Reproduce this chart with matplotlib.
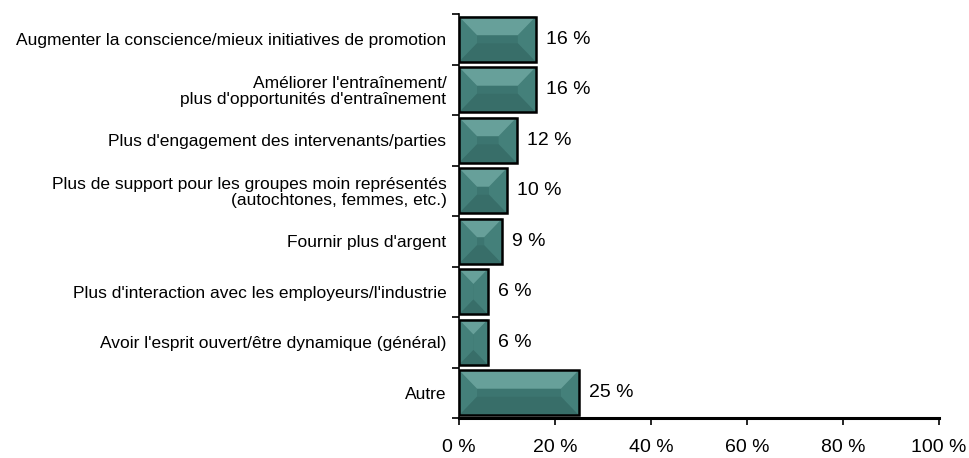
import matplotlib
matplotlib.use("Agg")
import matplotlib.pyplot as plt
from matplotlib.patches import Polygon, Rectangle

categories = [
    "Augmenter la conscience/mieux initiatives de promotion",
    "Améliorer l'entraînement/\nplus d'opportunités d'entraînement",
    "Plus d'engagement des intervenants/parties",
    "Plus de support pour les groupes moin représentés\n(autochtones, femmes, etc.)",
    "Fournir plus d'argent",
    "Plus d'interaction avec les employeurs/l'industrie",
    "Avoir l'esprit ouvert/être dynamique (général)",
    "Autre",
]
values = [16, 16, 12, 10, 9, 6, 6, 25]
xticks = [0, 20, 40, 60, 80, 100]
xticklabels = ["0 %", "20 %", "40 %", "60 %", "80 %", "100 %"]

plt.rcParams['font.family'] = ['Liberation Sans', 'DejaVu Sans']

fig = plt.figure(figsize=(9.69, 4.58), dpi=100)
ax = fig.add_axes([459/969, 1-418/458, 480/969, 404/458])

n = len(categories)
ys = list(range(n))[::-1]  # first category at top
h = 0.9
ix = 3.75   # bevel inset in x data units
iy = 0.37   # bevel inset in y data units

c_top = "#67a09a"
c_side = "#44807a"
c_mid = "#3c7570"
c_bot = "#386e69"

for y, v in zip(ys, values):
    x0, x1 = 0, v
    y0, y1 = y - h/2, y + h/2
    d = min(ix, v/2)
    dy = iy * d / ix
    ax.add_patch(Rectangle((x0, y0), v, h, facecolor=c_mid, edgecolor='none', zorder=2))
    ax.add_patch(Polygon([(x0, y0), (x0, y1), (x0+d, y1-dy), (x0+d, y0+dy)], closed=True,
                         facecolor=c_side, edgecolor='none', zorder=3))
    ax.add_patch(Polygon([(x1, y0), (x1, y1), (x1-d, y1-dy), (x1-d, y0+dy)], closed=True,
                         facecolor=c_side, edgecolor='none', zorder=3))
    ax.add_patch(Polygon([(x0, y1), (x1, y1), (x1-d, y1-dy), (x0+d, y1-dy)], closed=True,
                         facecolor=c_top, edgecolor='none', zorder=3))
    ax.add_patch(Polygon([(x0, y0), (x1, y0), (x1-d, y0+dy), (x0+d, y0+dy)], closed=True,
                         facecolor=c_bot, edgecolor='none', zorder=3))
    ax.add_patch(Rectangle((x0, y0), v, h, facecolor='none', edgecolor='black',
                           linewidth=1.8, zorder=4))
    ax.text(v + 2.1, y, f"{v} %", va='center', ha='left', fontsize=14, zorder=5)

ax.set_xlim(0, 100)
ax.set_ylim(-0.5, n - 0.5)
ax.set_xticks(xticks)
ax.set_xticklabels(xticklabels, fontsize=14)
ax.set_yticks(ys)
ax.set_yticklabels(categories, fontsize=12.5, linespacing=1.05)
ax.set_yticks([i - 0.5 for i in range(n + 1)], minor=True)
ax.tick_params(axis='y', which='major', length=0, pad=9)
ax.tick_params(axis='y', which='minor', length=5, width=1.2, direction='out')
ax.tick_params(axis='x', length=5, width=1.2, direction='out', pad=10)

for s in ['top', 'right']:
    ax.spines[s].set_visible(False)
ax.spines['left'].set_linewidth(1.2)
ax.spines['bottom'].set_linewidth(2.2)
ax.spines['bottom'].set_zorder(6)

fig.savefig("out.png", dpi=100)
